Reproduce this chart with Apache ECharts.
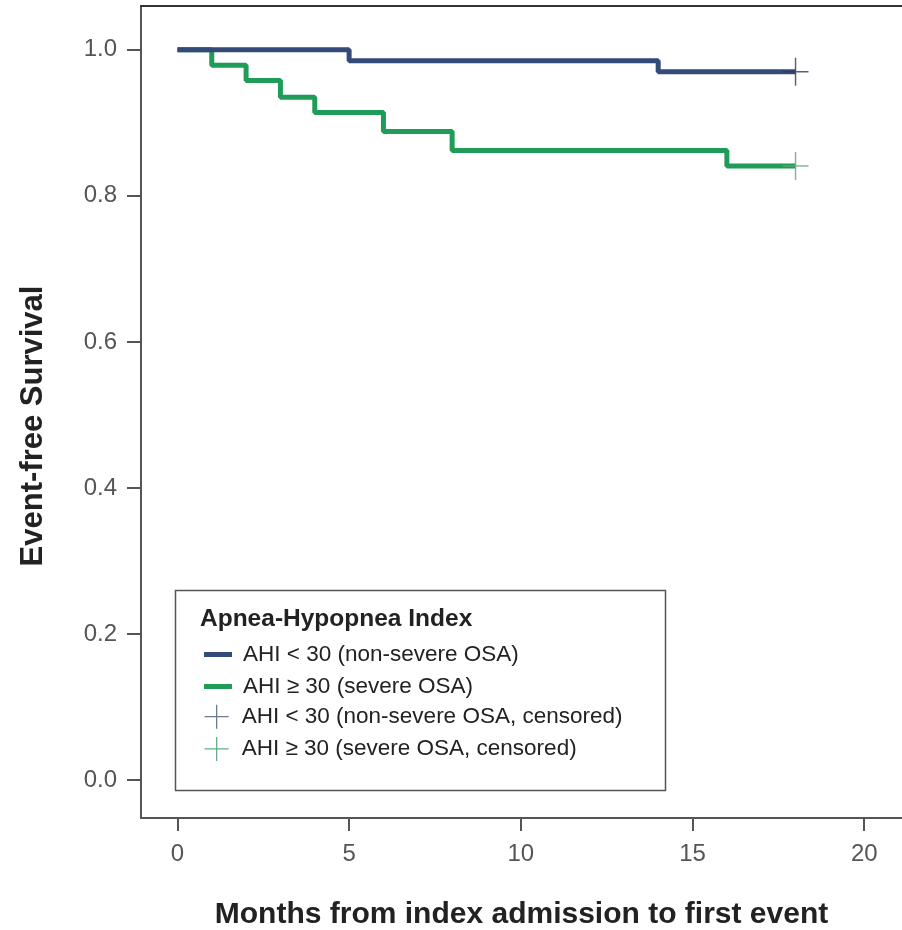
<!DOCTYPE html>
<html lang="en">
<head>
    <meta charset="UTF-8">
    <title>Event-free Survival</title>
    <style>
        body { margin: 0; background: #fff; }
        #KMChart { width: 902px; height: 930px; }
    </style>
</head>
<body onload="setup()">

    <div id="KMChart"></div>
    <script src="https://cdn.jsdelivr.net/npm/echarts@6/dist/echarts.min.js"></script>
    <script>
        // Kaplan-Meier steps
        var nonSevereMonths = [0, 5, 14, 18]
        var nonSevereSurv = [1.0, 0.985, 0.97, 0.97]
        var severeMonths = [0, 1, 2, 3, 4, 6, 8, 16, 18]
        var severeSurv = [1.0, 0.979, 0.958, 0.935, 0.914, 0.888, 0.862, 0.841, 0.841]
        // censored observations (last follow-up)
        var censorMonth = [18, 18]
        var censorSurv = [0.97, 0.841]

        var xTicks = [0, 5, 10, 15, 20]
        var yTicks = [0, 0.2, 0.4, 0.6, 0.8, 1.0]

        var seriesNames = [
            'AHI < 30 (non-severe OSA)',
            'AHI \u2265 30 (severe OSA)',
            'AHI < 30 (non-severe OSA, censored)',
            'AHI \u2265 30 (severe OSA, censored)'
        ]

        var BLUE = '#344a79'
        var GREEN = '#1f9c57'
        var PLUS = 'path://M12,0 L12,24 M0,12 L24,12'
        var KMChart

        function zip(xs, ys) {
            return xs.map((x, i) => [x, ys[i]])
        }

        function setup() {
            KMChart = echarts.init(document.getElementById('KMChart'), null, { renderer: 'canvas' })
            KMChart.setOption(option, true)
        }

        var axisCommon = {
            type: 'value',
            axisLine: { show: true, onZero: false, lineStyle: { color: '#555', width: 2 } },
            axisTick: { show: true, inside: false, length: 13, lineStyle: { color: '#555', width: 2 } },
            splitLine: { show: false }
        }
        var legendText = { fontFamily: 'Liberation Sans', fontSize: 22.5, color: '#222', lineHeight: 22, padding: [0, 0, 0, 6] }

        var option = {
            animation: false,
            backgroundColor: '#fff',
            grid: { left: 141, right: 0, top: 6, bottom: 112, containLabel: false, outerBoundsMode: 'none' },
            title: {
                text: 'Apnea-Hypopnea Index',
                left: 200, top: 607, padding: 0,
                textStyle: { fontFamily: 'Liberation Sans', fontWeight: 'bold', fontSize: 24.5, color: '#222' }
            },
            legend: [{
                data: [seriesNames[0], seriesNames[1]],
                orient: 'vertical', left: 204, top: 643, padding: 0,
                icon: 'rect', itemWidth: 28, itemHeight: 5, itemGap: 9,
                textStyle: legendText
            }, {
                data: [
                    { name: seriesNames[2], itemStyle: { color: 'rgba(0,0,0,0)', borderColor: '#4a5878', borderWidth: 1.3 } },
                    { name: seriesNames[3], itemStyle: { color: 'rgba(0,0,0,0)', borderColor: '#3f9a6c', borderWidth: 1.3 } }
                ],
                orient: 'vertical', left: 204, top: 704, padding: 0,
                icon: PLUS, itemWidth: 28, itemHeight: 24, itemGap: 7,
                textStyle: legendText
            }],
            graphic: [{
                type: 'rect',
                left: 173, top: 588,
                shape: { width: 490, height: 200 },
                style: { fill: 'none', stroke: '#555', lineWidth: 1.5 },
                z: 10
            }],
            xAxis: [Object.assign({}, axisCommon, {
                min: -1.06, max: 21.1,
                position: 'bottom',
                axisTick: Object.assign({}, axisCommon.axisTick, { length: 13, customValues: xTicks }),
                axisLabel: {
                    customValues: xTicks, margin: 24,
                    fontFamily: 'Liberation Sans', fontSize: 24, color: '#555'
                },
                name: 'Months from index admission to first event',
                nameLocation: 'middle', nameGap: 82,
                nameTextStyle: { fontFamily: 'Liberation Sans', fontWeight: 'bold', fontSize: 30, color: '#222' }
            }), {
                type: 'value', position: 'top',
                min: -1.06, max: 21.1,
                axisLine: { show: true, onZero: false, lineStyle: { color: '#333', width: 2 } },
                axisTick: { show: false }, axisLabel: { show: false }, splitLine: { show: false }
            }],
            yAxis: Object.assign({}, axisCommon, {
                min: -0.052, max: 1.06,
                axisTick: Object.assign({}, axisCommon.axisTick, { length: 14, customValues: yTicks }),
                axisLabel: {
                    customValues: yTicks, margin: 24,
                    formatter: v => v.toFixed(1),
                    fontFamily: 'Liberation Sans', fontSize: 24, color: '#555'
                },
                name: 'Event-free Survival',
                nameLocation: 'middle', nameGap: 92, nameRotate: 90,
                nameTextStyle: { fontFamily: 'Liberation Sans', fontWeight: 'bold', fontSize: 31, color: '#222', padding: [0, 28, 0, 0] }
            }),
            series: [{
                name: seriesNames[0],
                type: 'line', step: 'end', showSymbol: false,
                color: BLUE,
                lineStyle: { color: BLUE, width: 5 },
                data: zip(nonSevereMonths, nonSevereSurv),
                z: 3
            }, {
                name: seriesNames[1],
                type: 'line', step: 'end', showSymbol: false,
                color: GREEN,
                lineStyle: { color: GREEN, width: 5 },
                data: zip(severeMonths, severeSurv),
                z: 2
            }, {
                name: seriesNames[2],
                type: 'scatter', symbol: PLUS, symbolSize: [26, 28],
                itemStyle: { color: 'rgba(0,0,0,0)', borderColor: '#2c3a5a', borderWidth: 1.5 },
                data: [[censorMonth[0], censorSurv[0]]],
                z: 4
            }, {
                name: seriesNames[3],
                type: 'scatter', symbol: PLUS, symbolSize: [26, 28],
                itemStyle: { color: 'rgba(0,0,0,0)', borderColor: '#6f9c84', borderWidth: 1.5 },
                data: [[censorMonth[1], censorSurv[1]]],
                z: 4
            }]
        }
    </script>
</body>
</html>
